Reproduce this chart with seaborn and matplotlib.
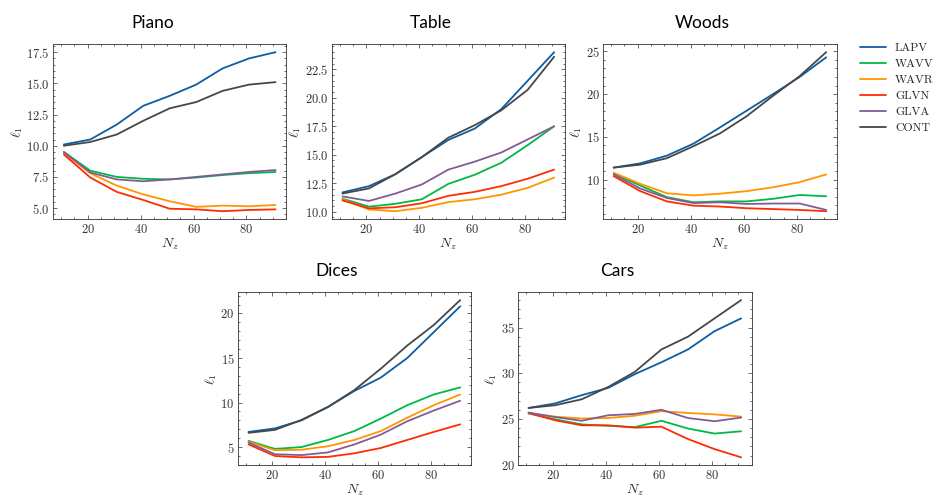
"""
l1 error vs N_z for the five scenes
"""
import pandas as pd
import seaborn as sns
import matplotlib.pyplot as plt
from matplotlib.ticker import MultipleLocator


N_Z = [11, 21, 31, 41, 51, 61, 71, 81, 91]
METHODS = ['LAPV', 'WAVV', 'WAVR', 'GLVN', 'GLVA', 'CONT']
COLORS = ['#0C5DA5', '#00B945', '#FF9500', '#FF2C00', '#845B97', '#474747']

PIANO = {
    'LAPV': [10.1, 10.5, 11.7, 13.2, 14.0, 14.9, 16.2, 17.0, 17.5],
    'WAVV': [9.5, 8.0, 7.5, 7.35, 7.3, 7.45, 7.65, 7.8, 7.9],
    'WAVR': [9.4, 7.8, 6.8, 6.1, 5.55, 5.1, 5.2, 5.15, 5.25],
    'GLVN': [9.3, 7.45, 6.3, 5.65, 4.95, 4.9, 4.75, 4.85, 4.9],
    'GLVA': [9.5, 7.85, 7.3, 7.15, 7.3, 7.5, 7.7, 7.9, 8.05],
    'CONT': [10.0, 10.3, 10.9, 12.0, 13.0, 13.5, 14.4, 14.9, 15.1],
}
TABLE = {
    'LAPV': [11.7, 12.25, 13.3, 14.8, 16.3, 17.3, 19.0, 21.5, 24.0],
    'WAVV': [11.15, 10.45, 10.7, 11.1, 12.45, 13.25, 14.3, 15.85, 17.5],
    'WAVR': [11.1, 10.2, 10.05, 10.35, 10.85, 11.1, 11.5, 12.1, 13.0],
    'GLVN': [11.0, 10.3, 10.4, 10.75, 11.4, 11.75, 12.25, 12.9, 13.7],
    'GLVA': [11.35, 10.95, 11.6, 12.4, 13.7, 14.4, 15.2, 16.35, 17.5],
    'CONT': [11.6, 12.05, 13.3, 14.8, 16.5, 17.6, 18.9, 20.7, 23.6],
}
WOODS = {
    'LAPV': [11.4, 11.9, 12.8, 14.2, 16.1, 18.05, 20.0, 22.0, 24.3],
    'WAVV': [10.7, 9.3, 7.95, 7.35, 7.45, 7.45, 7.75, 8.2, 8.05],
    'WAVR': [10.8, 9.5, 8.4, 8.15, 8.35, 8.65, 9.1, 9.7, 10.6],
    'GLVN': [10.4, 8.65, 7.45, 6.95, 6.85, 6.65, 6.55, 6.45, 6.3],
    'GLVA': [10.6, 8.95, 7.85, 7.25, 7.35, 7.15, 7.2, 7.2, 6.45],
    'CONT': [11.4, 11.75, 12.5, 13.9, 15.4, 17.4, 19.8, 22.1, 24.9],
}
DICES = {
    'LAPV': [6.7, 7.1, 8.0, 9.5, 11.3, 12.8, 15.0, 17.9, 20.8],
    'WAVV': [5.7, 4.8, 5.0, 5.8, 6.8, 8.2, 9.7, 10.9, 11.7],
    'WAVR': [5.6, 4.65, 4.7, 5.1, 5.8, 6.8, 8.3, 9.7, 10.9],
    'GLVN': [5.3, 4.0, 3.85, 3.9, 4.3, 4.9, 5.8, 6.7, 7.55],
    'GLVA': [5.5, 4.2, 4.1, 4.4, 5.3, 6.4, 7.9, 9.1, 10.2],
    'CONT': [6.6, 6.93, 8.05, 9.5, 11.4, 13.8, 16.4, 18.7, 21.5],
}
CARS = {
    'LAPV': [26.2, 26.7, 27.6, 28.4, 29.9, 31.2, 32.6, 34.6, 36.0],
    'WAVV': [25.6, 24.95, 24.4, 24.25, 24.1, 24.8, 23.95, 23.4, 23.65],
    'WAVR': [25.6, 25.25, 25.05, 25.1, 25.35, 25.85, 25.65, 25.5, 25.25],
    'GLVN': [25.65, 24.85, 24.3, 24.3, 24.05, 24.15, 22.8, 21.7, 20.8],
    'GLVA': [25.7, 25.2, 24.8, 25.4, 25.55, 26.0, 25.1, 24.75, 25.15],
    'CONT': [26.2, 26.5, 27.15, 28.5, 30.15, 32.6, 34.0, 36.0, 38.0],
}

# (name, data, y tick step, [left, bottom, width, height]) in figure fractions
SCENES = [
    ('Piano', PIANO, 2.5, [0.057, 0.559, 0.249, 0.352]),
    ('Table', TABLE, 2.5, [0.355, 0.559, 0.249, 0.352]),
    ('Woods', WOODS, 5, [0.645, 0.559, 0.250, 0.352]),
    ('Dices', DICES, 5, [0.2545, 0.064, 0.249, 0.348]),
    ('Cars', CARS, 5, [0.554, 0.064, 0.250, 0.348]),
]

sns.set_style("ticks")
plt.rcParams.update({
    'font.family': 'serif',
    'font.serif': ['cmr10', 'DejaVu Serif'],
    'mathtext.fontset': 'cm',
    'axes.formatter.use_mathtext': True,
    'axes.linewidth': 0.6,
    'axes.edgecolor': '#333333',
    'xtick.direction': 'in', 'ytick.direction': 'in',
    'xtick.top': True, 'ytick.right': True,
    'xtick.minor.visible': True, 'ytick.minor.visible': True,
    'xtick.major.size': 3, 'ytick.major.size': 3,
    'xtick.minor.size': 1.5, 'ytick.minor.size': 1.5,
    'xtick.major.width': 0.5, 'ytick.major.width': 0.5,
    'xtick.minor.width': 0.5, 'ytick.minor.width': 0.5,
    'xtick.major.pad': 3, 'ytick.major.pad': 2.5,
    'xtick.labelsize': 9, 'ytick.labelsize': 9,
    'xtick.color': '#333333', 'ytick.color': '#333333',
})
palette = dict(zip(METHODS, COLORS))

fig = plt.figure(figsize=(9.35, 4.97), dpi=100)

handles = None
for name, scene, ystep, rect in SCENES:
    df = pd.DataFrame([
        {'N_z': n, 'l1': v, 'method': m}
        for m in METHODS for n, v in zip(N_Z, scene[m])
    ])
    ax = fig.add_axes(rect)
    sns.lineplot(data=df, x='N_z', y='l1', hue='method', hue_order=METHODS,
                 palette=palette, linewidth=1.3, ax=ax, legend=handles is None)
    if handles is None:
        handles, labels = ax.get_legend_handles_labels()
        ax.get_legend().remove()
    ax.set_xlabel(r'$N_z$', fontsize=10, labelpad=0)
    ax.set_ylabel(r'$\ell_1$', fontsize=10, labelpad=1)
    ax.set_xticks([20, 40, 60, 80])
    ax.yaxis.set_major_locator(MultipleLocator(ystep))
    # titles sit a bit left of the axes centre
    fig.text(rect[0] + 0.106, rect[1] + rect[3] + 0.032, name, ha='center',
             va='baseline', fontsize=12.5, family='Lato', color='black')

leg = fig.legend(handles, labels, loc='upper left', bbox_to_anchor=(0.908, 0.935),
                 frameon=False, fontsize=8.5, handlelength=2.2, labelspacing=0.48,
                 handletextpad=0.8)
for line in leg.get_lines():
    line.set_linewidth(1.3)

fig.savefig('out.png', dpi=100)
